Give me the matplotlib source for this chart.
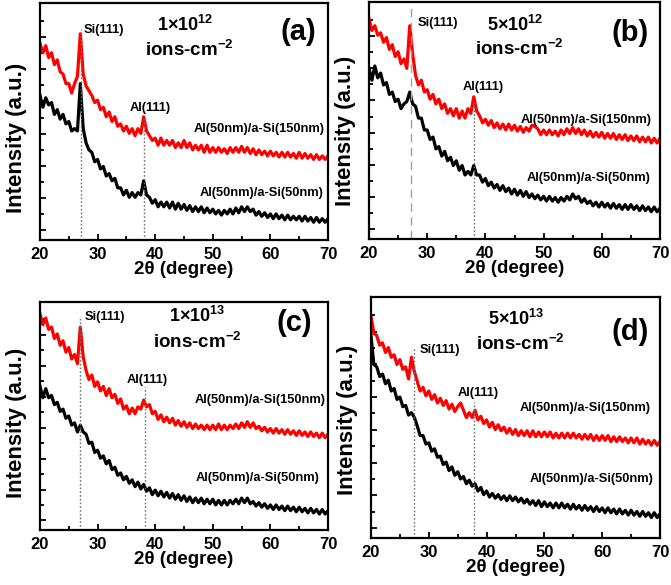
#!/usr/bin/env python3
"""XRD patterns of Al/a-Si bilayers after ion irradiation (four fluences)."""

import matplotlib

matplotlib.use("Agg")
import matplotlib.pyplot as plt
import numpy as np
from matplotlib.ticker import FixedLocator

plt.rcParams["font.family"] = ["Liberation Sans", "DejaVu Sans"]
plt.rcParams["font.weight"] = "bold"
plt.rcParams["mathtext.fontset"] = "custom"
plt.rcParams["mathtext.rm"] = "Liberation Sans:bold"
plt.rcParams["mathtext.bf"] = "Liberation Sans:bold"
plt.rcParams["mathtext.default"] = "bf"

# 2theta sampling (degrees), one reading every 0.5 deg
two_theta = np.arange(20.0, 70.25, 0.5)

# intensities (arbitrary units, 0-100 of the panel height)
a_si150 = [83, 79, 82, 77, 79, 74, 76, 71, 70, 66,
           66, 62, 66, 69, 87, 70, 65, 63, 61, 58,
           59, 55, 56, 52, 54, 50, 52, 48, 49, 46,
           48, 45, 47, 44, 47, 45, 52, 46, 44, 42,
           43, 40, 43, 40, 42, 40, 42, 39, 41, 39,
           42, 39, 41, 38, 40, 38, 40, 37, 40, 37,
           39, 37, 39, 37, 38.5, 36.5, 39, 37, 39, 37,
           39.5, 37, 39, 36.5, 38.5, 36, 38, 36, 37.5, 35.5,
           37.5, 35.5, 37, 35, 37, 35, 37, 35, 36.5, 34.5,
           37, 34.5, 36.5, 34.5, 36, 34, 36, 34, 35.5, 34,
           35.5]
a_si50 = [61, 56, 60, 57, 58, 53, 55, 51, 53, 49,
          50, 46, 47, 46, 66, 47, 41, 38, 37, 33,
          34, 30, 31, 27, 28, 25, 26, 22, 22, 19,
          21, 18, 20, 18, 20, 19, 25, 19, 18, 15.5,
          17, 14, 16, 14, 16, 13.5, 16, 13, 15.5, 13,
          15, 12.5, 14.5, 12, 14, 12, 14, 11.5, 13.5, 11.5,
          13, 11, 12.5, 10.5, 12.5, 11, 13, 11, 13.5, 11.5,
          14, 12, 14, 12, 13, 10.5, 12, 10, 11.5, 9.5,
          11, 9, 11, 9, 10.5, 8.5, 10.5, 8.5, 10, 8.5,
          10, 8, 10, 8, 9.5, 7.5, 9.5, 7.5, 9, 7.5,
          9]

b_si150 = [93, 88, 90, 86, 87, 83, 85, 80, 82, 77,
           79, 74, 76, 72, 90, 78, 69, 65, 67, 62,
           63, 59, 61, 57, 59, 55, 57, 53, 55, 52,
           55, 51, 54, 51, 55, 53, 60, 54, 52, 49,
           50.5, 48, 50, 47, 49, 46.5, 48.5, 46, 48.5, 46,
           48, 45.5, 47.5, 45, 47, 45.5, 48, 47.5, 46.5, 44,
           46, 44, 46, 44, 45.5, 43.5, 46, 44, 46.5, 44.5,
           47, 44.5, 46.5, 44, 46, 43.5, 45.5, 43, 45, 43,
           45, 42.5, 44.5, 42.5, 44.5, 42, 44, 42, 44, 41.5,
           43.5, 41.5, 43.5, 41, 43, 41, 43, 40.5, 42.5, 40.5,
           42.5]
b_si50 = [72, 67, 73, 68, 70, 65, 66, 61, 62, 58,
          59, 55, 57, 58, 62, 57, 56, 51, 51, 46,
          46, 42, 43, 38, 39, 35, 37, 33, 34.5, 31,
          33, 29, 31, 27, 28.5, 27, 31, 27, 27, 24,
          25.5, 22.5, 24, 21.5, 23, 20.5, 22.5, 20, 21.5, 19,
          21, 18.5, 20.5, 18, 20, 17.5, 19, 17, 18.5, 16.5,
          18, 16, 18, 16, 17.5, 15.5, 17.5, 16, 18, 16.5,
          19, 17, 18, 15.5, 17, 15, 16, 14, 15.5, 13.5,
          15.5, 13.5, 15, 13, 15, 13, 14.5, 12.5, 14.5, 12.5,
          14.5, 12.5, 14, 12, 14, 12, 13.5, 11.5, 13.5, 11.5,
          13]

c_si150 = [95, 90, 93, 88, 89, 84, 86, 81, 83, 78,
           80, 75, 77, 73, 89, 76, 70, 66, 68, 63,
           65, 61, 63, 59, 62, 58, 59.5, 55.5, 57.5, 53,
           54.5, 51, 53.5, 51, 54, 53, 57, 54, 55, 51,
           52, 48.5, 50.5, 47.5, 49.5, 47, 49, 46, 48, 45.5,
           47.5, 45, 47, 44.5, 46.5, 44.5, 46, 44, 46, 44,
           46, 44, 46.5, 44, 46, 44, 46, 44.5, 46.5, 44.5,
           47, 45, 47.5, 45, 47, 44.5, 45.5, 43.5, 45, 43,
           44.5, 42.5, 44.5, 42.5, 44, 42, 44, 42, 43.5, 41.5,
           43.5, 41.5, 43, 41, 43, 41, 42.5, 40.5, 42.5, 40.5,
           42]
c_si50 = [63, 58, 62, 58, 59, 55, 56, 52, 53, 49,
          50, 46, 47, 43, 46, 43, 42, 38, 38.5, 34,
          35, 31.5, 32.5, 29, 30.5, 26.5, 27.5, 24, 25, 22,
          23.5, 20.5, 22, 19, 21, 18, 20, 17, 18.5, 15.5,
          17.5, 15, 17, 14.5, 16.5, 14, 16, 13.5, 15.5, 13,
          15, 12.5, 14.5, 12, 14, 12, 14, 11.5, 13.5, 11.5,
          13.5, 11, 13, 11, 13, 11, 13, 11.5, 13.5, 11.5,
          14, 12, 14, 11.5, 12.5, 10.5, 12, 10, 11.5, 9.5,
          11, 9, 11, 9, 10.5, 8.5, 10.5, 8.5, 10, 8,
          10, 8, 9.5, 7.5, 9.5, 7.5, 9, 7, 9, 7,
          8.5]

d_si150 = [92, 85, 84, 80, 81, 77, 79, 75, 76, 72,
           74, 70, 71, 66, 75, 69, 65, 61, 62.5, 59,
           61, 57.5, 59.5, 56, 58, 55, 57, 53.5, 55.5, 52.5,
           54.5, 56, 53, 50, 52, 50, 53, 49, 50.5, 47.5,
           49, 46, 48, 45, 47, 44.5, 46, 43.5, 45.5, 43,
           45, 42.5, 44.5, 42.5, 44.5, 42, 44.5, 42, 44, 42,
           44, 42, 44, 41.5, 43.5, 41.5, 43.5, 41.5, 43.5, 41.5,
           43.5, 41.5, 43, 41, 43, 41, 43, 40.5, 42.5, 40.5,
           42.5, 40.5, 42.5, 40, 42, 40, 42, 40, 41.5, 39.5,
           41.5, 39.5, 41.5, 39, 41, 39, 40.5, 38.5, 40.5, 38.5,
           40]
d_si50 = [84, 72, 71, 67, 68, 64, 65.5, 61, 62, 57.5,
          58.5, 54.5, 55, 51, 52, 50, 46.5, 42.5, 42.5, 39,
          39.5, 36, 37, 33.5, 34, 30.5, 31.5, 28, 29.5, 26,
          27.5, 24.5, 25.5, 22.5, 24, 21.5, 22.5, 19.5, 21, 18,
          19.5, 17, 18.5, 16.5, 18, 16, 17.5, 15.5, 17.5, 15.5,
          17, 15, 16.5, 14.5, 16, 14, 15.5, 13.5, 15.5, 13,
          15, 13, 14.5, 12.5, 14.5, 12.5, 14.5, 12.5, 14, 12,
          14, 12, 13.5, 11.5, 13.5, 11.5, 13, 11, 13, 11,
          12.5, 10.5, 12.5, 10.5, 12, 10, 12, 10, 11.5, 9.5,
          11.5, 9.5, 11, 9, 11, 9, 10.5, 8.5, 10.5, 8.5,
          10]

panel_tags = ["(a)", "(b)", "(c)", "(d)"]
fluences = ["1\u00d710$^{12}$", "5\u00d710$^{12}$", "1\u00d710$^{13}$", "5\u00d710$^{13}$"]
si_peak = [27.1, 27.2, 27.0, 27.4]
al_peak = [38.1, 38.1, 38.2, 37.9]
series_150 = [a_si150, b_si150, c_si150, d_si150]
series_50 = [a_si50, b_si50, c_si50, d_si50]

FIG_W, FIG_H = 671, 585
# panel boxes in pixels: left, top, right, bottom
axes_px = [
    (40, 3, 328, 240),
    (369, 2, 660, 239),
    (40, 302, 328, 530),
    (371, 297, 660, 538),
]
ylabel_frac = [0.43, 0.455, 0.47, 0.49]
label_pos = [
    dict(si=(27.5, 88.6), flu=(45.2, 90.7), ions=(46.0, 80.0), tag=(64.8, 87.8),
         al=(39.1, 55.7), l150=(69.5, 47.0), l50=(69.2, 20.0), si_top=89, al_top=52, si_dash=False),
    dict(si=(28.3, 91.0), flu=(45.1, 90.4), ions=(45.9, 80.0), tag=(64.8, 87.0),
         al=(39.6, 64.0), l150=(68.6, 50.0), l50=(68.3, 25.6), si_top=98, al_top=58, si_dash=True),
    dict(si=(27.7, 93.4), flu=(47.3, 94.0), ions=(47.3, 82.5), tag=(64.1, 91.0),
         al=(38.6, 65.7), l150=(69.6, 57.2), l50=(68.6, 22.6), si_top=94, al_top=62.8, si_dash=False),
    dict(si=(28.5, 78.0), flu=(45.2, 91.0), ions=(45.8, 80.7), tag=(64.8, 85.5),
         al=(38.6, 60.0), l150=(68.4, 53.8), l50=(68.8, 24.4), si_top=79, al_top=56.5, si_dash=False),
]
ytick_pos = [4.2 + 6.78 * k for k in range(14)]


def main() -> None:
    fig = plt.figure(figsize=(FIG_W / 100, FIG_H / 100), dpi=100)
    small = 9.3

    for i in range(4):
        left, top, right, bottom = axes_px[i]
        w_px, h_px = right - left, bottom - top
        ax = fig.add_axes([left / FIG_W, 1 - bottom / FIG_H, w_px / FIG_W, h_px / FIG_H])
        pos = label_pos[i]

        ax.plot(two_theta, series_150[i], color="#ff0000", lw=2.3)
        ax.plot(two_theta, series_50[i], color="black", lw=2.3)

        si_style = dict(ls=(0, (6, 4)), color="#a0a0a0", lw=1.0) if pos["si_dash"] else \
            dict(ls=(0, (1.2, 1.5)), color="#707070", lw=1.0)
        ax.plot([si_peak[i], si_peak[i]], [0, pos["si_top"]], **si_style)
        ax.plot([al_peak[i], al_peak[i]], [0, pos["al_top"]], ls=(0, (1.2, 1.5)), color="#707070", lw=1.0)

        ax.text(*pos["si"], "Si(111)", fontsize=small, fontweight="bold", ha="left", va="center")
        ax.text(*pos["al"], "Al(111)", fontsize=small, fontweight="bold", ha="center", va="center")
        ax.text(*pos["l150"], "Al(50nm)/a-Si(150nm)", fontsize=small, fontweight="bold", ha="right", va="center")
        ax.text(*pos["l50"], "Al(50nm)/a-Si(50nm)", fontsize=small, fontweight="bold", ha="right", va="center")
        ax.text(*pos["flu"], fluences[i], fontsize=13, fontweight="bold", ha="center", va="center")
        ax.text(*pos["ions"], "ions-cm$^{-2}$", fontsize=13.5, fontweight="bold", ha="center", va="center")
        ax.text(*pos["tag"], panel_tags[i], fontsize=21, fontweight="bold", ha="center", va="center")

        ax.set_xlim(20, 70)
        ax.set_ylim(0, 100)
        ax.set_xticks([20, 30, 40, 50, 60, 70])
        ax.set_xticks([25, 35, 45, 55, 65], minor=True)
        ax.yaxis.set_major_locator(FixedLocator(ytick_pos[::2]))
        ax.yaxis.set_minor_locator(FixedLocator(ytick_pos[1::2]))
        ax.set_yticklabels([])
        ax.tick_params(which="both", direction="in", width=1.3)
        ax.tick_params(which="major", length=4)
        ax.tick_params(which="minor", length=3)
        ax.tick_params(axis="x", labelsize=12, pad=5)
        for lab in ax.get_xticklabels():
            lab.set_fontweight("bold")
        for spine in ax.spines.values():
            spine.set_linewidth(1.6)

        ax.set_xlabel("2\u03b8 (degree)", fontsize=13.5, fontweight="bold")
        ax.set_ylabel("Intensity (a.u.)", fontsize=16, fontweight="bold")
        ax.xaxis.set_label_coords(0.5, -21 / h_px)
        ax.yaxis.set_label_coords(-13 / w_px, ylabel_frac[i])

    fig.savefig("out.png", dpi=100)
    plt.close(fig)


if __name__ == "__main__":
    main()
